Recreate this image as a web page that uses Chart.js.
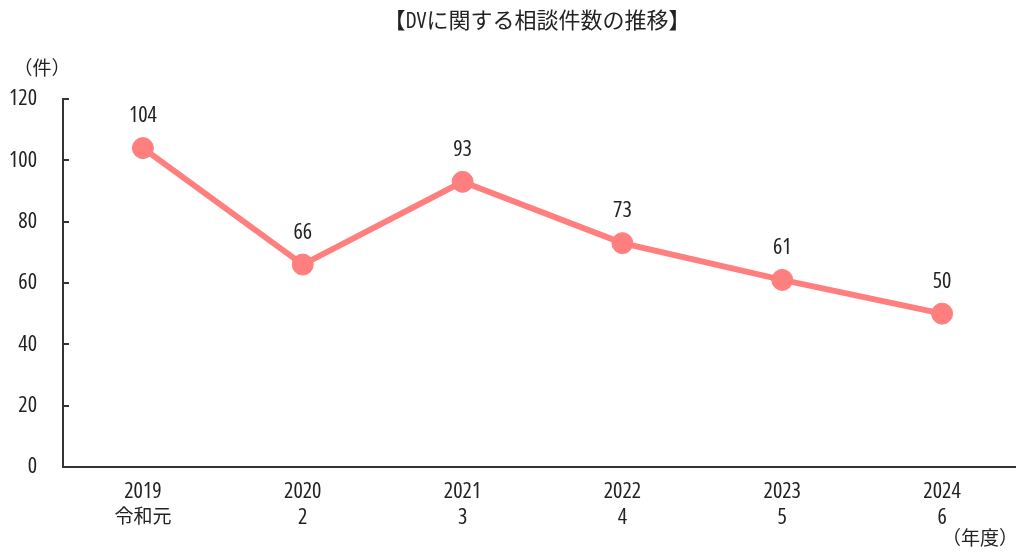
<!DOCTYPE html>
<html>
<head>
<meta charset="utf-8">
<script src="https://cdn.jsdelivr.net/npm/chart.js@4.4.1/dist/chart.umd.min.js"></script>
<style>
    html, body { margin: 0; padding: 0; background: #fff; overflow: hidden; }
    #wrap { width: 1016px; height: 552px; overflow: hidden; }
</style>
</head>
<body>
<div id="wrap"><canvas id="dvChart" width="1040" height="552"></canvas></div>
<script>
// 年度ごとの相談件数
const years = ['2019', '2020', '2021', '2022', '2023', '2024'];
const eraYears = ['令和元', '2', '3', '4', '5', '6'];
const counts = [104, 66, 93, 73, 61, 50];
const yTicks = [0, 20, 40, 60, 80, 100, 120];

const FONT = "'Open Sans', 'Noto Sans CJK JP', sans-serif";
const STRETCH = 'condensed';
const LINE_COLOR = '#FF7F7F';
const AXIS_COLOR = '#333333';
const TEXT_COLOR = '#222222';

// タイトル・単位・データラベル・目盛り・和暦を描く
const decorations = {
    id: 'decorations',
    afterDraw(chart) {
        const ctx = chart.ctx;
        const area = chart.chartArea;
        const xScale = chart.scales.x;
        const yScale = chart.scales.y;
        ctx.save();

        // 縦軸の内向き目盛り
        ctx.strokeStyle = AXIS_COLOR;
        ctx.lineWidth = 2;
        yTicks.forEach(v => {
            const y = Math.round(yScale.getPixelForValue(v));
            ctx.beginPath();
            ctx.moveTo(area.left, y);
            ctx.lineTo(area.left + 6, y);
            ctx.stroke();
        });

        ctx.fillStyle = TEXT_COLOR;
        ctx.textAlign = 'center';
        ctx.textBaseline = 'middle';

        // データラベル
        ctx.font = STRETCH + ' 22px ' + FONT;
        const meta = chart.getDatasetMeta(0);
        meta.data.forEach((pt, i) => {
            ctx.fillText(String(counts[i]), pt.x, pt.y - 32);
        });

        // タイトル
        ctx.fillText('【DVに関する相談件数の推移】', 537, 22);

        // 和暦（年度の下段）
        eraYears.forEach((e, i) => {
            const size = /^\d+$/.test(e) ? 22 : 19;
            ctx.font = STRETCH + ' ' + size + 'px ' + FONT;
            ctx.fillText(e, xScale.getPixelForTick(i), area.bottom + 51);
        });

        // 単位
        ctx.font = STRETCH + ' 19px ' + FONT;
        ctx.fillText('（件）', 42, 70);
        ctx.fillText('（年度）', 980, 540);

        ctx.restore();
    }
};

new Chart(document.getElementById('dvChart').getContext('2d'), {
    type: 'line',
    data: {
        labels: years,
        datasets: [{
            data: counts,
            borderColor: LINE_COLOR,
            backgroundColor: LINE_COLOR,
            borderWidth: 6,
            pointRadius: 10.5,
            pointHoverRadius: 10.5,
            pointBorderWidth: 1,
            pointBackgroundColor: LINE_COLOR,
            pointBorderColor: LINE_COLOR,
            tension: 0,
            clip: false
        }]
    },
    options: {
        responsive: false,
        animation: false,
        layout: {
            autoPadding: false,
            padding: { top: 99, left: 0, right: 18, bottom: 0 }
        },
        plugins: {
            legend: { display: false },
            tooltip: { enabled: false },
            title: { display: false }
        },
        scales: {
            x: {
                offset: true,
                grid: { display: false, drawTicks: false },
                border: { display: true, color: AXIS_COLOR, width: 2 },
                ticks: {
                    color: TEXT_COLOR,
                    font: { family: FONT, size: 22, weight: STRETCH, lineHeight: 1.2 },
                    padding: 12,
                    maxRotation: 0
                },
                afterFit(scale) { scale.height = 85; }
            },
            y: {
                min: 0,
                max: 120,
                grid: { display: false, drawTicks: false },
                border: { display: true, color: AXIS_COLOR, width: 2 },
                ticks: {
                    stepSize: 20,
                    color: TEXT_COLOR,
                    font: { family: FONT, size: 22, weight: STRETCH },
                    padding: 26
                },
                afterFit(scale) { scale.width = 63; }
            }
        }
    },
    plugins: [decorations]
});
</script>
</body>
</html>
